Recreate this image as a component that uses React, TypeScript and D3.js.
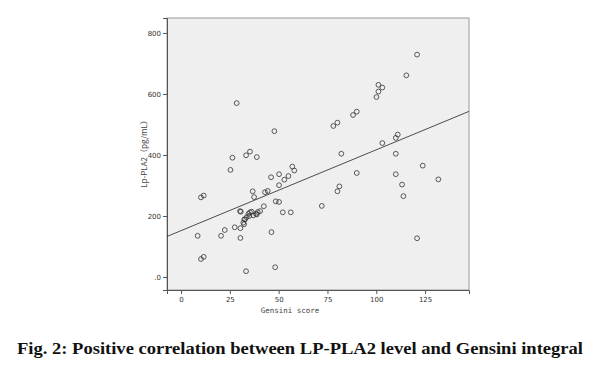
import React, { useEffect, useRef } from 'react';
import { axisBottom, axisLeft, line, scaleLinear, select } from 'd3';

// Gensini score (x) and LP-PLA2 in pg/mL (y)
const gensini = [
  28.5, 47.8, 26.3, 33.3, 35.3, 38.8, 120.9, 115.4, 101.1, 103.1, 101.1, 100.1,
  88.1, 90.0, 78.0, 80.1, 82.1, 103.1, 110.0, 111.0, 110.0, 25.3, 10.2, 11.6,
  8.5, 10.2, 11.6, 20.5, 22.4, 27.5, 30.2, 30.4, 30.4, 32.4, 32.3, 36.7, 37.4,
  38.4, 39.3, 40.5, 42.4, 43.0, 44.4, 46.1, 46.3, 48.2, 48.5, 50.2, 50.2, 50.2,
  52.1, 52.9, 55.0, 56.2, 57.0, 58.0, 72.1, 33.3, 34.5, 35.3, 36.2, 33.6, 35.0,
  32.8, 31.9, 37.0, 38.8, 30.6, 90.0, 81.1, 80.1, 110.0, 123.8, 113.2, 113.9,
  131.8, 120.9,
];
const lpPla2 = [
  570, 478, 391, 399, 411, 393, 729, 661, 630, 621, 608, 590,
  531, 542, 495, 506, 404, 439, 456, 467, 404, 351, 261, 267,
  135, 59, 66, 135, 154, 163, 216, 160, 128, 189, 173, 281, 262,
  207, 213, 216, 232, 278, 282, 327, 147, 32, 248, 246, 337, 301,
  212, 319, 331, 212, 362, 349, 233, 19, 207, 212, 214, 196, 200,
  189, 178, 202, 205, 214, 341, 297, 281, 337, 365, 303, 265,
  320, 127,
];
const xTicks = [0, 25, 50, 75, 100, 125];
const yTicks = [0, 200, 400, 600, 800];
// fitted line
const fitIntercept = 152;
const fitSlope = 2.65;

const W = 595;
const H = 369;
const plot = { left: 167, top: 18, right: 469, bottom: 290 };

export default function App() {
  const ref = useRef<SVGSVGElement>(null);

  useEffect(() => {
    document.body.style.margin = '0';
    const svg = select(ref.current);
    svg.selectAll('*').remove();

    const x = scaleLinear().domain([-7.2, 147.5]).range([plot.left, plot.right]);
    const y = scaleLinear().domain([-42.6, 849]).range([plot.bottom, plot.top]);

    svg.append('rect')
      .attr('x', plot.left).attr('y', plot.top)
      .attr('width', plot.right - plot.left).attr('height', plot.bottom - plot.top)
      .attr('fill', '#efefef').attr('stroke', '#9a9a9a').attr('stroke-width', 1);

    const tickFont = '"DejaVu Sans", sans-serif';

    const gy = svg.append('g').attr('transform', `translate(${plot.left},0)`)
      .call(axisLeft(y).tickValues(yTicks).tickSize(4).tickPadding(2)
        .tickFormat((d) => (d === 0 ? '.0' : String(d))));
    gy.select('.domain').attr('stroke', '#555');
    gy.selectAll('.tick line').attr('stroke', '#555');
    gy.selectAll('text').attr('font-family', tickFont).attr('font-size', 7).attr('fill', '#333');

    const gx = svg.append('g').attr('transform', `translate(0,${plot.bottom})`)
      .call(axisBottom(x).tickValues(xTicks).tickSize(4).tickPadding(3));
    gx.select('.domain').attr('stroke', '#555');
    gx.selectAll('.tick line').attr('stroke', '#555');
    gx.selectAll('text').attr('font-family', tickFont).attr('font-size', 7).attr('fill', '#333');

    const fit = line<number>()
      .x((d) => x(d))
      .y((d) => y(fitIntercept + fitSlope * d));
    svg.append('path')
      .attr('d', fit([-7.2, 147.5]))
      .attr('fill', 'none').attr('stroke', '#222').attr('stroke-width', 0.8);

    svg.append('g').selectAll('circle')
      .data(gensini.map((g, i) => [g, lpPla2[i]]))
      .join('circle')
      .attr('cx', (d) => x(d[0]))
      .attr('cy', (d) => y(d[1]))
      .attr('r', 2.4)
      .attr('fill', 'none').attr('stroke', '#333').attr('stroke-width', 0.8);

    svg.append('text')
      .attr('transform', 'translate(147,152) rotate(-90)')
      .attr('text-anchor', 'middle')
      .attr('font-family', '"Noto Sans CJK SC", sans-serif')
      .attr('font-size', 8).attr('fill', '#444')
      .text('Lp-PLA2（pg/mL）');

    svg.append('text')
      .attr('x', 290).attr('y', 313)
      .attr('text-anchor', 'middle')
      .attr('font-family', '"DejaVu Sans Mono", monospace')
      .attr('font-size', 7.5).attr('fill', '#444')
      .text('Gensini score');

    svg.append('text')
      .attr('x', 17).attr('y', 354)
      .attr('font-family', '"Liberation Serif", serif')
      .attr('font-weight', 'bold')
      .attr('font-size', 17).attr('fill', '#111')
      .attr('textLength', 566).attr('lengthAdjust', 'spacingAndGlyphs')
      .text('Fig. 2: Positive correlation between LP-PLA2 level and Gensini integral');
  }, []);

  return <svg ref={ref} width={W} height={H} style={{ display: 'block', background: '#fff' }} />;
}
